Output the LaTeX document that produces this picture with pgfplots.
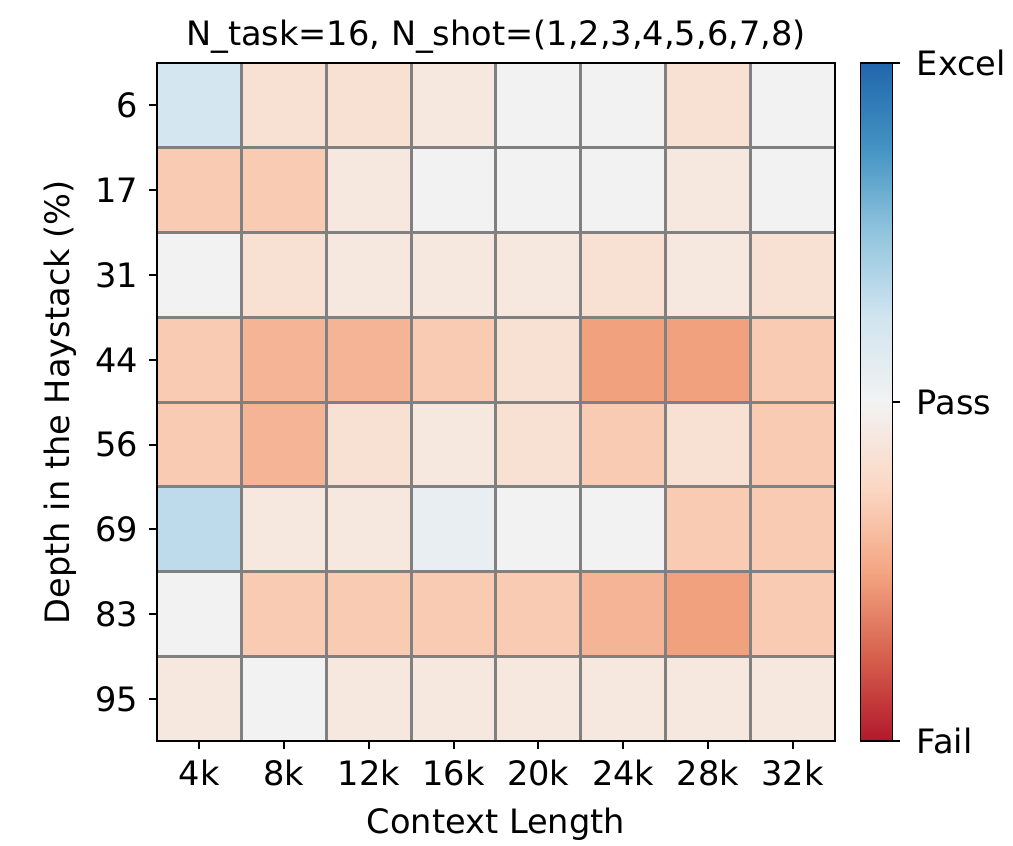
\documentclass[border=0pt]{standalone}
\usepackage{pgfplots}
\pgfplotsset{compat=1.18}
\usepackage{pgfplotstable}
\usepackage{fontspec}
\setmainfont{DejaVu Sans}
\pgfplotstableread{
x y c
0 0 4.9
1 0 3.3
2 0 3.3
3 0 3.6
4 0 4.0
5 0 4.0
6 0 3.3
7 0 4.0
0 1 2.75
1 1 2.75
2 1 3.6
3 1 4.0
4 1 4.0
5 1 4.0
6 1 3.6
7 1 4.0
0 2 4.0
1 2 3.3
2 2 3.6
3 2 3.6
4 2 3.6
5 2 3.3
6 2 3.6
7 2 3.3
0 3 2.75
1 3 2.3
2 3 2.3
3 3 2.75
4 3 3.3
5 3 1.95
6 3 1.95
7 3 2.75
0 4 2.75
1 4 2.3
2 4 3.3
3 4 3.6
4 4 3.3
5 4 2.75
6 4 3.3
7 4 2.75
0 5 5.3
1 5 3.6
2 5 3.6
3 5 4.3
4 5 4.0
5 5 4.0
6 5 2.75
7 5 2.75
0 6 4.0
1 6 2.75
2 6 2.75
3 6 2.75
4 6 2.75
5 6 2.3
6 6 1.95
7 6 2.75
0 7 3.6
1 7 4.0
2 7 3.6
3 7 3.6
4 7 3.6
5 7 3.6
6 7 3.6
7 7 3.6
}\heat
\begin{document}
\begin{tikzpicture}
\begin{axis}[
  name=ax,
  width=212pt, height=212pt, scale only axis,
  font=\fontsize{10.5}{12}\selectfont,
  xmin=-0.5, xmax=7.5, ymin=-0.5, ymax=7.5,
  y dir=reverse,
  xtick={0,...,7}, ytick={0,...,7},
  xtick pos=bottom, ytick pos=left,
  xticklabels={4k,8k,12k,16k,20k,24k,28k,32k},
  yticklabels={6,17,31,44,56,69,83,95},
  minor xtick={0.5,1.5,...,6.5}, minor ytick={0.5,1.5,...,6.5},
  minor grid style={draw=black!50, line width=0.95pt},
  xminorgrids=true, yminorgrids=true, minor tick length=0pt,
  tick align=outside, major tick length=2.3pt,
  tick style={black, line width=0.6pt},
  axis line style={black, line width=0.6pt},
  axis on top,
  title={N\_task=16, N\_shot=(1,2,3,4,5,6,7,8)},
  title style={yshift=-6.5pt},
  xlabel={Context Length},
  ylabel={Depth in the Haystack (\%)},
  ylabel shift=-1pt,
  colormap={rdbu}{rgb255=(178,24,43) rgb255=(214,96,77) rgb255=(244,165,130) rgb255=(251,216,196) rgb255=(242,242,242) rgb255=(209,229,240) rgb255=(146,197,222) rgb255=(67,147,195) rgb255=(33,102,172)},
  point meta min=0, point meta max=8,
  colorbar,
  colorbar style={
    at={(parent axis.north east)}, anchor=north west, xshift=-0.6pt,
    width=10pt,
    ytick={0,4,8}, yticklabels={Fail,Pass,Excel},
    ytick pos=right,
    yticklabel style={xshift=1.8pt},
    font=\fontsize{10.5}{12}\selectfont,
    tick align=outside, major tick length=2.3pt,
    tick style={black, line width=0.6pt},
    axis line style={black, line width=0.6pt},
  },
]
\addplot[matrix plot*, mesh/cols=8, point meta=explicit] table[x=x, y=y, meta=c] {\heat};
\end{axis}
\pgfresetboundingbox
\path[use as bounding box] ([xshift=-49pt,yshift=-32.5pt]ax.south west) rectangle ([xshift=55.6pt,yshift=19.7pt]ax.north east);
\end{tikzpicture}
\end{document}
